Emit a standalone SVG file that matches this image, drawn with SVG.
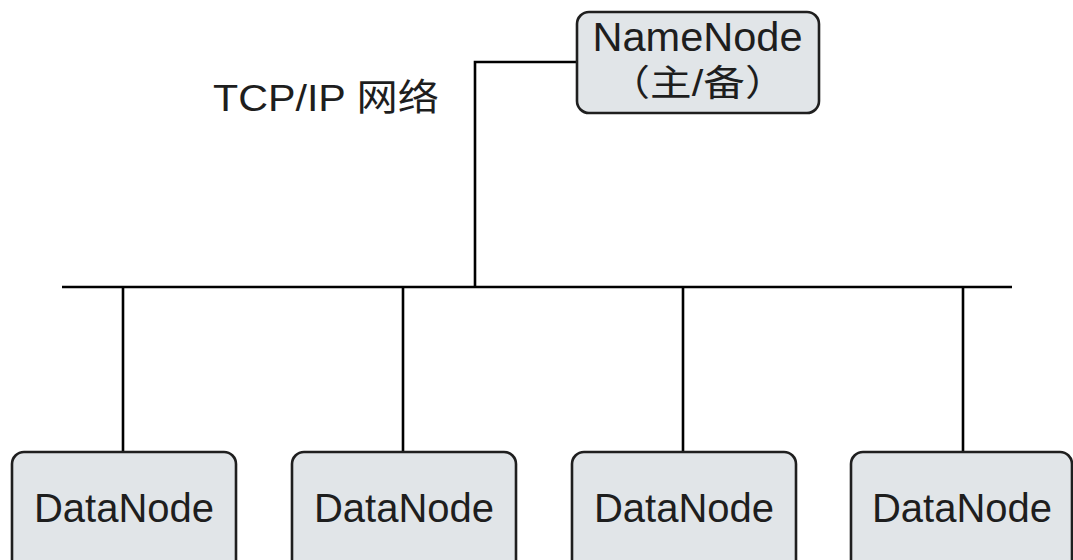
<svg xmlns="http://www.w3.org/2000/svg" width="1073" height="560" viewBox="0 0 1073 560">
  <style>
    .box { fill: #e1e5e8; stroke: #1f1f1f; stroke-width: 2.6; }
    .wire { fill: none; stroke: #000; stroke-width: 2.6; }
    .lbl { font-family: "Liberation Sans", "Noto Sans CJK SC", sans-serif; fill: #1e1e1e; text-anchor: middle; }
    .dn { font-size: 40px; }
  </style>
  <rect width="1073" height="560" fill="#fff"/>

  <!-- network wiring -->
  <g id="connectors">
    <polyline class="wire" points="577,62 475,62 475,287"/>
    <line class="wire" x1="62" y1="287" x2="1012" y2="287"/>
    <line class="wire" x1="123" y1="287" x2="123" y2="452"/>
    <line class="wire" x1="403" y1="287" x2="403" y2="452"/>
    <line class="wire" x1="683" y1="287" x2="683" y2="452"/>
    <line class="wire" x1="963" y1="287" x2="963" y2="452"/>
  </g>

  <g id="network-label">
    <text class="lbl" x="213" y="111" font-size="37" style="text-anchor:start" textLength="226" lengthAdjust="spacingAndGlyphs">TCP/IP 网络</text>
  </g>

  <g id="namenode">
    <rect class="box" x="577" y="12" width="242" height="101" rx="12"/>
    <text class="lbl" x="697.5" y="51" font-size="40" textLength="210" lengthAdjust="spacingAndGlyphs">NameNode</text>
    <text class="lbl" x="697.5" y="96" font-size="36" textLength="178" lengthAdjust="spacingAndGlyphs">（主/备）</text>
  </g>

  <g id="datanode-1">
    <rect class="box" x="12" y="452" width="224" height="130" rx="12"/>
    <text class="lbl dn" x="124" y="522">DataNode</text>
  </g>
  <g id="datanode-2">
    <rect class="box" x="292" y="452" width="224" height="130" rx="12"/>
    <text class="lbl dn" x="404" y="522">DataNode</text>
  </g>
  <g id="datanode-3">
    <rect class="box" x="572" y="452" width="224" height="130" rx="12"/>
    <text class="lbl dn" x="684" y="522">DataNode</text>
  </g>
  <g id="datanode-4">
    <rect class="box" x="851" y="452" width="221" height="130" rx="12"/>
    <text class="lbl dn" x="962" y="522">DataNode</text>
  </g>
</svg>
